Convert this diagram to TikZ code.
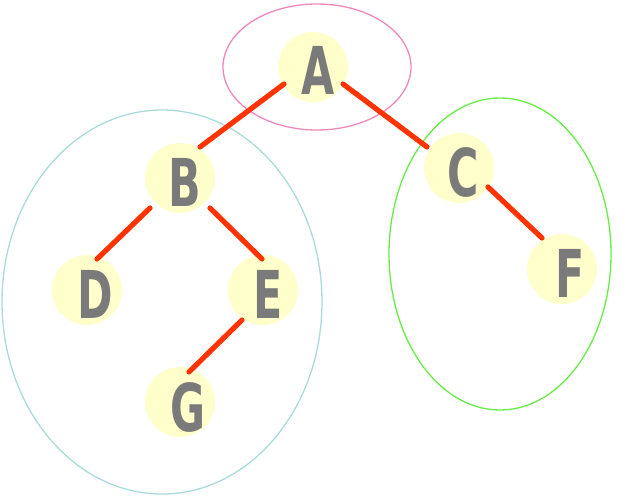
\documentclass[tikz,border=0pt]{standalone}
\usepackage{fontspec}
\usetikzlibrary{calc}
\newfontfamily\lettfont{DejaVu Sans Condensed}
\newcommand{\narrowlett}[1]{\scalebox{0.72}[1]{#1}}
\begin{document}
\begin{tikzpicture}[x=1pt,y=-1pt,
  tnode/.style={circle,fill=nodefill,draw=none,minimum size=70pt,inner sep=0pt},
  lett/.style={inner sep=0pt,anchor=center,
    font=\lettfont\bfseries\fontsize{66}{66}\selectfont,text=lettgrey},
  edge/.style={draw=edgered,line width=5.2pt,line cap=round},
  grp/.style={line width=1.3pt}]
\definecolor{nodefill}{HTML}{FFFFCC}
\definecolor{lettgrey}{HTML}{7A7A7A}
\definecolor{edgered}{HTML}{FF3300}
\definecolor{pinkc}{HTML}{EE88BB}
\definecolor{bluec}{HTML}{AADADA}
\definecolor{greenc}{HTML}{66EE44}
\useasboundingbox (0,0) rectangle (634,497);
\draw[grp,pinkc] (317,67) ellipse [x radius=94, y radius=63];
\draw[grp,bluec] (162,302) ellipse [x radius=160, y radius=192];
\draw[grp,greenc] (500,254) ellipse [x radius=111, y radius=156];
\node[tnode] (A) at (313,67) {};
\node[tnode] (B) at (180,178) {};
\node[tnode] (C) at (459,168) {};
\node[tnode] (D) at (87,290) {};
\node[tnode] (E) at (263,290) {};
\node[tnode] (F) at (562,269) {};
\node[tnode] (G) at (180,402) {};
\node[lett] (lA) at ($(A)+(5,3)$) {\narrowlett{A}};
\node[lett] (lB) at ($(B)+(5,4)$) {\narrowlett{B}};
\node[lett] (lC) at ($(C)+(4,4)$) {\narrowlett{C}};
\node[lett] (lD) at ($(D)+(8,4)$) {\narrowlett{D}};
\node[lett] (lE) at ($(E)+(5,4)$) {\narrowlett{E}};
\node[lett] (lF) at ($(F)+(8,4)$) {\narrowlett{F}};
\node[lett] (lG) at ($(G)+(8,5)$) {\narrowlett{G}};
\draw[edge] ($(A)+(-29,17)$) -- ($(B)+(20,-31)$);
\draw[edge] ($(A)+(30,17)$) -- ($(C)+(-32,-21)$);
\draw[edge] ($(B)+(-30,30)$) -- ($(D)+(10,-31)$);
\draw[edge] ($(B)+(30,30)$) -- ($(E)+(-1,-31)$);
\draw[edge] ($(C)+(29,19)$) -- ($(F)+(-20,-31)$);
\draw[edge] ($(E)+(-21,30)$) -- ($(G)+(9,-30)$);
\end{tikzpicture}
\end{document}
